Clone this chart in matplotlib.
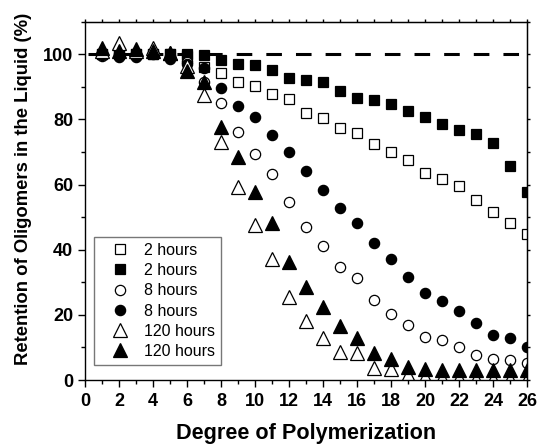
import matplotlib
matplotlib.use("Agg")
import matplotlib.pyplot as plt
from matplotlib.ticker import MultipleLocator

plt.rcParams['font.family'] = ['Liberation Sans', 'DejaVu Sans']

dp = list(range(1, 27))

sq_open_2h = [100, 100.5, 100, 100, 100, 99.5, 96, 94.3, 91.5, 90.3, 87.9, 86.2, 82.0, 80.4,
              77.5, 75.9, 72.3, 70.0, 67.5, 63.7, 61.7, 59.6, 55.4, 51.5, 48.3, 44.7]
sq_fill_2h = [100, 100, 100, 100, 100, 100.1, 99.7, 98.2, 97.1, 96.6, 95.1, 92.8, 92.1, 91.5,
              88.7, 86.6, 86.1, 84.6, 82.5, 80.8, 78.7, 76.7, 75.5, 72.8, 65.6, 57.8]
ci_open_8h = [99.5, 100, 100, 100.5, 99.5, 97.5, 91.4, 84.9, 76.0, 69.3, 63.1, 54.8, 47.0, 41.2,
              34.8, 31.4, 24.5, 20.4, 16.9, 13.3, 12.4, 10.1, 7.6, 6.3, 6.2, 5.1]
ci_fill_8h = [99.8, 99.2, 99.2, 100, 98.7, 97, 95.8, 89.5, 84.0, 80.8, 75.2, 70.0, 64.2, 58.4,
              52.7, 48.1, 42.1, 37.0, 31.7, 26.8, 24.3, 21.2, 17.6, 13.8, 12.8, 10.2]
tr_open_120h = [101, 103.5, 101, 101.8, 100.5, 96.5, 87.4, 73.1, 59.3, 47.5, 37.0, 25.6, 18.2, 12.8,
                8.5, 8.2, 3.6, 3.3, 1.5, 0.8, 0.5, 0.5, 0.3, 0.3, 0.3, 0.3]
tr_fill_120h = [101.8, 101, 101.7, 101, 100.5, 95, 91.5, 77.7, 68.5, 57.8, 48.1, 36.3, 28.4, 22.5,
                16.5, 12.8, 8.2, 6.6, 3.9, 3.3, 3.2, 3.1, 3.1, 3.1, 3.1, 3.1]

labels = ['2 hours', '2 hours', '8 hours', '8 hours', '120 hours', '120 hours']

fig = plt.figure(figsize=(5.37, 4.44), dpi=100)
ax = fig.add_axes([85/537, 64/444, 442/537, 358.3/444])

ax.plot([0.2, 26], [100, 100], color='black', lw=2.2, dashes=(5.1, 4.6), zorder=1)

ew = 0.9
ax.plot(dp, sq_open_2h, ls='none', marker='s', ms=7.7, mfc='white', mec='black', mew=ew, label=labels[0])
ax.plot(dp, sq_fill_2h, ls='none', marker='s', ms=7.7, mfc='black', mec='black', mew=ew, label=labels[1])
ax.plot(dp, ci_open_8h, ls='none', marker='o', ms=7.4, mfc='white', mec='black', mew=ew, label=labels[2])
ax.plot(dp, ci_fill_8h, ls='none', marker='o', ms=7.4, mfc='black', mec='black', mew=ew, label=labels[3])
ax.plot(dp, tr_open_120h, ls='none', marker='^', ms=9.8, mfc='white', mec='black', mew=ew, label=labels[4])
ax.plot(dp, tr_fill_120h, ls='none', marker='^', ms=9.8, mfc='black', mec='black', mew=ew, label=labels[5])

ax.set_xlim(0, 26)
ax.set_ylim(0, 110)
ax.xaxis.set_major_locator(MultipleLocator(2))
ax.xaxis.set_minor_locator(MultipleLocator(1))
ax.set_yticks([0, 20, 40, 60, 80, 100])
ax.yaxis.set_minor_locator(MultipleLocator(10))
ax.tick_params(which='both', direction='out', top=False, right=False, width=1)
ax.tick_params(which='major', length=5, labelsize=13)
ax.tick_params(axis='x', which='major', pad=4)
ax.tick_params(which='minor', length=3)
for lab in ax.get_xticklabels() + ax.get_yticklabels():
    lab.set_fontweight('bold')
for s in ax.spines.values():
    s.set_linewidth(1)

# short outward ticks on top and right spines
top = ax.secondary_xaxis('top')
top.xaxis.set_major_locator(MultipleLocator(1))
top.tick_params(which='both', direction='out', length=2.2, width=1, labeltop=False)
right = ax.secondary_yaxis('right')
right.yaxis.set_major_locator(MultipleLocator(10))
right.tick_params(which='both', direction='out', length=2.2, width=1, labelright=False)

ax.set_xlabel('Degree of Polymerization', fontsize=15.6, fontweight='bold', labelpad=10)
ax.set_ylabel('Retention of Oligomers in the Liquid (%)', fontsize=13.3, fontweight='bold')
ax.yaxis.set_label_coords(-0.12, 0.533)

leg = ax.legend(loc='lower left', bbox_to_anchor=(0.02, 0.042), borderaxespad=0,
                fancybox=False, edgecolor='#555555', fontsize=11.5, numpoints=1,
                handlelength=2.5, handletextpad=0.3, labelspacing=0.33, borderpad=0.37)
leg.get_frame().set_linewidth(1)

fig.savefig('out.png', dpi=100)
